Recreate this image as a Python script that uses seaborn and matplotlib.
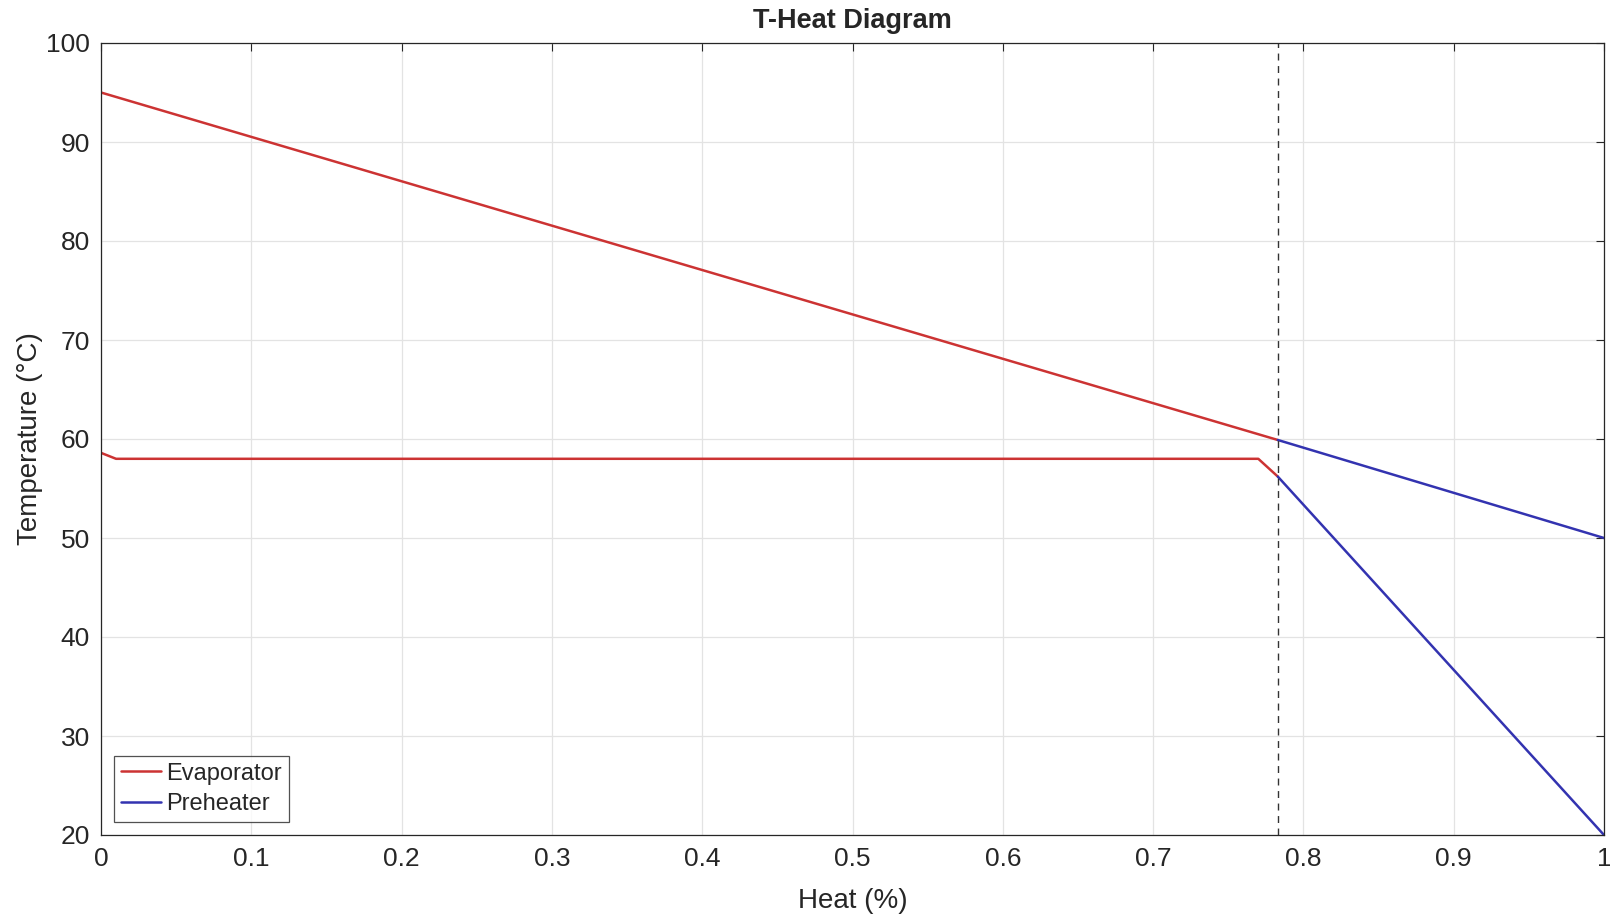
import matplotlib
matplotlib.use("Agg")
import matplotlib.pyplot as plt
import seaborn as sns
import pandas as pd

# Data
evap_hot_x = [0.0, 0.783]
evap_hot_t = [95.0, 59.9]
evap_cold_x = [0.0, 0.01, 0.770, 0.783]
evap_cold_t = [58.6, 58.0, 58.0, 56.2]
pre_hot_x = [0.783, 1.0]
pre_hot_t = [59.9, 50.0]
pre_cold_x = [0.783, 1.0]
pre_cold_t = [56.2, 20.0]
pinch_x = 0.783

rows = []
for x, t in zip(evap_hot_x, evap_hot_t):
    rows.append(("Evaporator", "hot", x, t))
for x, t in zip(evap_cold_x, evap_cold_t):
    rows.append(("Evaporator", "cold", x, t))
for x, t in zip(pre_hot_x, pre_hot_t):
    rows.append(("Preheater", "hot", x, t))
for x, t in zip(pre_cold_x, pre_cold_t):
    rows.append(("Preheater", "cold", x, t))
df = pd.DataFrame(rows, columns=["Component", "Stream", "Heat", "Temp"])

sns.set_style("white")
plt.rcParams['font.family'] = ['Liberation Sans', 'DejaVu Sans']

fig = plt.figure(figsize=(16.1, 9.19), dpi=100)
ax = fig.add_axes([101/1610, 1 - 835/919, (1604-101)/1610, (835-43)/919])

palette = {"Evaporator": "#cc3333", "Preheater": "#3333b0"}
sns.lineplot(data=df, x="Heat", y="Temp", hue="Component", units="Stream",
             estimator=None, sort=False, palette=palette, linewidth=1.8, ax=ax)

ax.axvline(pinch_x, color="#333333", linestyle=(0, (5, 4)), linewidth=1.0)

ax.set_xlim(0, 1)
ax.set_ylim(20, 100)
ax.set_xticks([0, 0.1, 0.2, 0.3, 0.4, 0.5, 0.6, 0.7, 0.8, 0.9, 1])
ax.set_xticklabels(["0", "0.1", "0.2", "0.3", "0.4", "0.5", "0.6", "0.7", "0.8", "0.9", "1"])
ax.set_yticks(range(20, 101, 10))
ax.grid(True, color="#e3e3e3", linewidth=0.9)
ax.tick_params(axis="both", labelsize=19, colors="#262626", direction="in",
               length=6, top=True, right=True, width=0.8)
ax.tick_params(axis="x", pad=9)
ax.tick_params(axis="y", pad=8)
for s in ax.spines.values():
    s.set_color("#262626")
    s.set_linewidth(0.9)

ax.set_xlabel("Heat (%)", fontsize=20, color="#262626", labelpad=12)
ax.set_ylabel("Temperature (°C)", fontsize=20, color="#262626", labelpad=2)
ax.set_title("T-Heat Diagram", fontsize=19.5, fontweight="bold", pad=11)

leg = ax.legend(loc="lower left", fontsize=17, frameon=True, fancybox=False,
                edgecolor="#262626", borderaxespad=0.55, handlelength=1.7,
                handletextpad=0.2, labelspacing=0.35, borderpad=0.3)
leg.get_frame().set_linewidth(0.9)
for line in leg.get_lines():
    line.set_linewidth(1.8)

fig.savefig("out.png", dpi=100)
